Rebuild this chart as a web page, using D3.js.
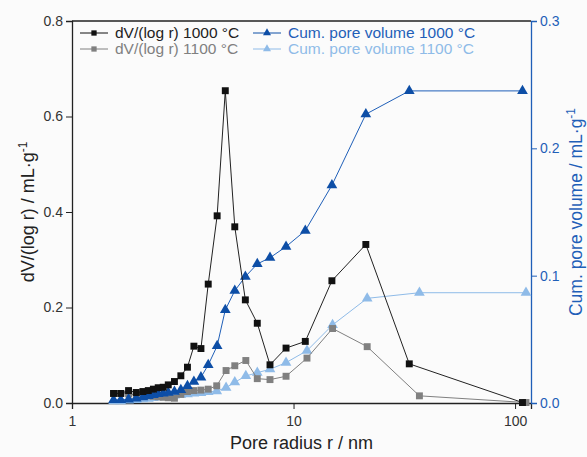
<!DOCTYPE html>
<html>
<head>
<meta charset="utf-8">
<script src="https://cdn.jsdelivr.net/npm/d3@7"></script>
<style>
  body { margin: 0; background: #fbfbfb; }
  svg { font-family: "Liberation Sans", Arial, sans-serif; }
</style>
</head>
<body>
<svg id="chart" width="587" height="457"></svg>
<script>
// pore radius (nm) and values
let r1000 = [1.54, 1.66, 1.80, 1.95, 2.09, 2.21, 2.33, 2.45, 2.58, 2.72, 2.90, 3.10, 3.32, 3.55, 3.82, 4.12, 4.52, 4.92, 5.43, 6.06, 6.86, 7.83, 9.25, 11.3, 14.9, 21.2, 33.3, 108];
let dv1000 = [0.020, 0.020, 0.026, 0.022, 0.024, 0.026, 0.029, 0.032, 0.033, 0.038, 0.045, 0.057, 0.075, 0.119, 0.114, 0.249, 0.392, 0.654, 0.369, 0.216, 0.167, 0.080, 0.115, 0.129, 0.256, 0.332, 0.082, 0.001];
let cum1000 = [0.0024, 0.0024, 0.0029, 0.0037, 0.0045, 0.0055, 0.0063, 0.0071, 0.0076, 0.0081, 0.0089, 0.0102, 0.0134, 0.0167, 0.0202, 0.0299, 0.0448, 0.0731, 0.0882, 0.0992, 0.1092, 0.1141, 0.1228, 0.1354, 0.171, 0.2268, 0.2451, 0.2451];

let r1100 = [1.54, 1.66, 1.80, 1.95, 2.09, 2.21, 2.33, 2.45, 2.58, 2.72, 2.90, 3.10, 3.32, 3.55, 3.82, 4.12, 4.50, 4.96, 5.43, 6.09, 6.86, 7.83, 9.25, 11.5, 15.0, 21.5, 37.0, 112];
let dv1100 = [0.020, 0.020, 0.019, 0.017, 0.016, 0.015, 0.014, 0.013, 0.012, 0.011, 0.010, 0.018, 0.024, 0.026, 0.027, 0.029, 0.036, 0.068, 0.078, 0.089, 0.051, 0.049, 0.056, 0.094, 0.156, 0.118, 0.015, 0.001];
let cum1100 = [0.0015, 0.0015, 0.002, 0.0025, 0.003, 0.0035, 0.004, 0.0045, 0.005, 0.0055, 0.006, 0.0065, 0.007, 0.0075, 0.008, 0.0087, 0.0094, 0.012, 0.0163, 0.0212, 0.0238, 0.0265, 0.0317, 0.0411, 0.0613, 0.0822, 0.0866, 0.0866];

let xTicks = [1, 10, 100];
let yLeftTicks = [0, 0.2, 0.4, 0.6, 0.8];
let yRightTicks = [0, 0.1, 0.2, 0.3];

let margin = { top: 21, right: 56, bottom: 54, left: 72 };
let width = 587, height = 457;
let blue = "#1f5fb8";
let lightBlue = "#8fbbe8";
let gray = "#808080";

let svg = d3.select("#chart");

let x = d3.scaleLog().domain([1, 118]).range([margin.left, width - margin.right]);
let yL = d3.scaleLinear().domain([0, 0.8]).range([height - margin.bottom, margin.top]);
let yR = d3.scaleLinear().domain([0, 0.3]).range([height - margin.bottom, margin.top]);

// minor ticks for the log axis
let xMinor = [];
for (let dec of [1, 10]) {
    for (let k = 2; k <= 9; k++) xMinor.push(dec * k);
}

// ---- axes ----
let bottom = height - margin.bottom;
let gx = svg.append("g").attr("transform", "translate(0," + bottom + ")");
gx.call(d3.axisBottom(x).tickValues(xMinor).tickSize(3).tickFormat(""));
gx.call(d3.axisBottom(x).tickValues(xTicks).tickSize(6).tickFormat(d3.format("d")));

let gyl = svg.append("g").attr("transform", "translate(" + margin.left + ",0)");
gyl.call(d3.axisLeft(yL).tickValues([0.1, 0.3, 0.5, 0.7]).tickSize(3).tickFormat(""));
gyl.call(d3.axisLeft(yL).tickValues(yLeftTicks).tickSize(6).tickFormat(d3.format(".1f")));

let gyr = svg.append("g").attr("class", "right").attr("transform", "translate(" + (width - margin.right) + ",0)");
gyr.call(d3.axisRight(yR).tickValues([0.05, 0.15, 0.25]).tickSize(3).tickFormat(""));
gyr.call(d3.axisRight(yR).tickValues(yRightTicks).tickSize(6).tickFormat(d3.format(".1f")));

svg.selectAll(".domain").attr("stroke", "#222").attr("stroke-width", 1.3);
svg.selectAll(".tick line").attr("stroke", "#222");
svg.selectAll(".tick text").attr("font-size", 14).attr("fill", "#333")
    .attr("font-family", "Liberation Sans, Arial, sans-serif");
gx.selectAll(".tick text").attr("dy", "1em").attr("y", 9);
gyr.select(".domain").attr("stroke", blue);
gyr.selectAll(".tick line").attr("stroke", blue);
gyr.selectAll(".tick text").attr("fill", blue);

// top frame
svg.append("line")
    .attr("x1", margin.left).attr("x2", width - margin.right)
    .attr("y1", margin.top).attr("y2", margin.top)
    .attr("stroke", "#222").attr("stroke-width", 1.3);

// axis titles
svg.append("text")
    .attr("x", (margin.left + width - margin.right) / 2).attr("y", 449)
    .attr("text-anchor", "middle").attr("font-size", 18).attr("fill", "#222")
    .text("Pore radius r / nm");

let ly = svg.append("text")
    .attr("transform", "translate(34," + ((margin.top + bottom) / 2) + ") rotate(-90)")
    .attr("text-anchor", "middle").attr("font-size", 18).attr("fill", "#222");
ly.append("tspan").text("dV/(log r) / mL·g");
ly.append("tspan").attr("dy", -7).attr("font-size", 12).text("-1");

let ry = svg.append("text")
    .attr("transform", "translate(582," + ((margin.top + bottom) / 2) + ") rotate(-90)")
    .attr("text-anchor", "middle").attr("font-size", 17.5).attr("fill", blue);
ry.append("tspan").text("Cum. pore volume / mL·g");
ry.append("tspan").attr("dy", -7).attr("font-size", 12).text("-1");

// ---- series ----
let series = [
    { r: r1100, v: cum1100, y: yR, color: lightBlue, line: lightBlue, sym: d3.symbolTriangle },
    { r: r1100, v: dv1100, y: yL, color: gray, line: gray, sym: d3.symbolSquare },
    { r: r1000, v: cum1000, y: yR, color: "#0d4ea6", line: blue, sym: d3.symbolTriangle },
    { r: r1000, v: dv1000, y: yL, color: "#111", line: "#222", sym: d3.symbolSquare }
];

for (let s of series) {
    let pts = s.r.map((d, i) => [d, s.v[i]]);
    let line = d3.line().x(d => x(d[0])).y(d => s.y(d[1]));
    svg.append("path")
        .attr("d", line(pts))
        .attr("fill", "none")
        .attr("stroke", s.line)
        .attr("stroke-width", 1);
    let size = s.sym === d3.symbolSquare ? 48 : 50;
    svg.append("g").selectAll("path")
        .data(pts)
        .join("path")
        .attr("transform", d => "translate(" + x(d[0]) + "," + s.y(d[1]) + ")")
        .attr("d", d3.symbol().type(s.sym).size(size))
        .attr("fill", s.color);
}

// ---- legend ----
let legendItems = [
    { label: "dV/(log r) 1000 °C", color: "#111", text: "#222", sym: d3.symbolSquare, col: 0, row: 0 },
    { label: "dV/(log r) 1100 °C", color: gray, text: gray, sym: d3.symbolSquare, col: 0, row: 1 },
    { label: "Cum. pore volume 1000 °C", color: "#0d4ea6", text: blue, sym: d3.symbolTriangle, col: 1, row: 0 },
    { label: "Cum. pore volume 1100 °C", color: lightBlue, text: lightBlue, sym: d3.symbolTriangle, col: 1, row: 1 }
];
let colX = [80, 253];
for (let it of legendItems) {
    let lx = colX[it.col], lyy = 33 + it.row * 16;
    let g = svg.append("g");
    g.append("line").attr("x1", lx).attr("x2", lx + 28).attr("y1", lyy).attr("y2", lyy)
        .attr("stroke", it.color).attr("stroke-width", 1);
    g.append("path").attr("transform", "translate(" + (lx + 14) + "," + lyy + ")")
        .attr("d", d3.symbol().type(it.sym).size(28)).attr("fill", it.color);
    g.append("text").attr("x", lx + 35).attr("y", lyy + 5)
        .attr("font-size", 15.5).attr("fill", it.text).text(it.label);
}
</script>
</body>
</html>
